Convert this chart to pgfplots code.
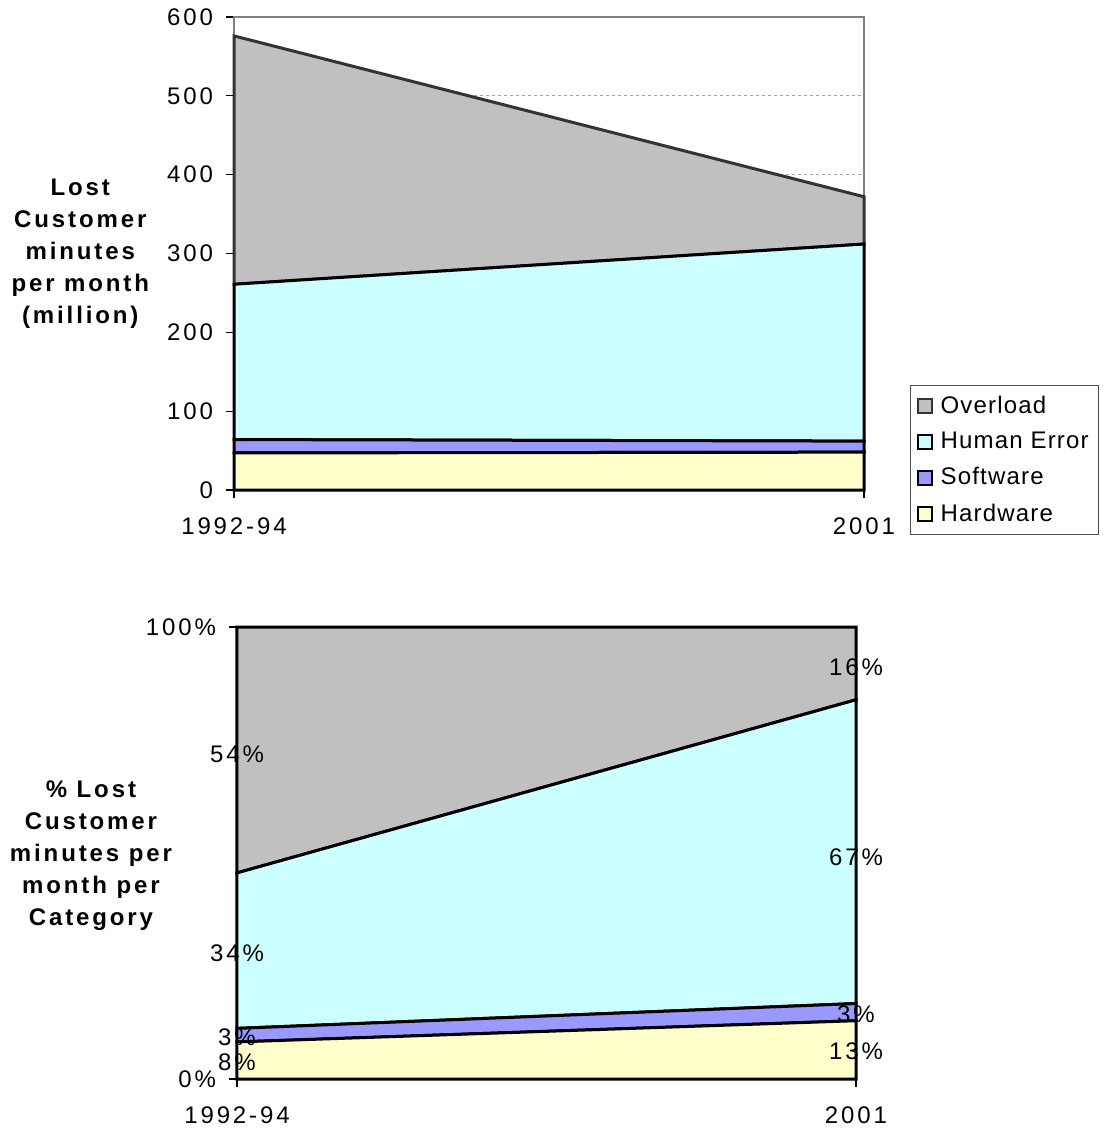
\documentclass[border=0pt]{standalone}
\usepackage{fontspec}
\setmainfont{Liberation Sans}[LetterSpace=12]
\newfontfamily\lgfont{Liberation Sans}[LetterSpace=5]
\usepackage{pgfplots}
\usepackage{pgfplotstable}
\pgfplotsset{compat=1.18}
\definecolor{ovc}{RGB}{192,192,192}
\definecolor{hec}{RGB}{204,255,255}
\definecolor{swc}{RGB}{153,153,255}
\definecolor{hwc}{RGB}{255,255,204}
\definecolor{ovline}{RGB}{51,51,51}
\definecolor{framec}{RGB}{128,128,128}

\pgfplotstableread{
x hw sw he ov
0 47 17 197 315
1 48 14 250 60
}\topdata
\pgfplotstableread{
x hw sw he ov
0 8.2 3.0 34.4 54.4
1 12.9 3.8 67.2 16.1
}\pctdata

\pgfplotsset{
  basestyle/.style={
    scale only axis,
    xmin=0, xmax=1,
    xtick={0,1}, xticklabels={1992-94,2001},
    tick pos=left,
    tick align=outside,
    major tick length=4pt,
    tick style={black, line width=0.6pt},
    axis line style={framec, line width=1pt},
    ticklabel style={font=\fontsize{12}{14}\selectfont},
    xticklabel style={yshift=-6.5pt},
    yticklabel style={xshift=-3pt},
    /pgf/number format/assume math mode=true,
    stack plots=y,
    clip=false,
  }
}

\begin{document}
\begin{tikzpicture}
\useasboundingbox (0pt,0pt) rectangle (552pt,-564.5pt);
\begin{axis}[basestyle, at={(117pt,-245pt)}, anchor=south west,
  width=315pt, height=236.5pt,
  ymin=0, ymax=600, ytick={0,100,...,600},
  ymajorgrids, major grid style={gray!70, line width=0.6pt, dash pattern=on 1.5pt off 1.5pt},
  ylabel={Lost\\Customer\\minutes\\per month\\(million)},
  ylabel style={at={(axis description cs:-0.244,0.5)}, rotate=-90, anchor=center, align=center, font=\bfseries\fontsize{12}{16}\selectfont},
  reverse legend,
  legend style={at={(1.073,-0.095)}, anchor=south west, draw=black!70, line width=0.6pt,
    font=\lgfont\fontsize{12}{14}\selectfont, row sep=4pt, inner sep=3pt, column sep=2pt},
  legend cell align=left,
  legend image code/.code={\draw[#1, line width=1pt] (0pt,-3.5pt) rectangle (7pt,3.5pt);},
]
\addplot[fill=hwc, draw=black, line width=1.5pt] table[x=x, y=hw] {\topdata} \closedcycle;
\addplot[fill=swc, draw=black, line width=1.5pt] table[x=x, y=sw] {\topdata} \closedcycle;
\addplot[fill=hec, draw=black, line width=1.5pt] table[x=x, y=he] {\topdata} \closedcycle;
\addplot[fill=ovc, draw=ovline, line width=1.5pt] table[x=x, y=ov] {\topdata} \closedcycle;
\legend{Hardware,Software,Human Error,Overload}
\end{axis}

\begin{axis}[basestyle, at={(118.5pt,-539.5pt)}, anchor=south west,
  width=309.5pt, height=226pt,
  ymin=0, ymax=100, ytick={0,100}, yticklabels={0\%,100\%},
  ylabel={\%\ Lost\\Customer\\minutes per\\month per\\Category},
  ylabel style={at={(axis description cs:-0.236,0.493)}, rotate=-90, anchor=center, align=center, font=\bfseries\fontsize{12}{16}\selectfont},
]
\addplot[fill=hwc, draw=black, line width=1.5pt] table[x=x, y=hw] {\pctdata} \closedcycle;
\addplot[fill=swc, draw=black, line width=1.5pt] table[x=x, y=sw] {\pctdata} \closedcycle;
\addplot[fill=hec, draw=black, line width=1.5pt] table[x=x, y=he] {\pctdata} \closedcycle;
\addplot[fill=ovc, draw=black, line width=1.5pt] table[x=x, y=ov] {\pctdata} \closedcycle;
\end{axis}

\begin{axis}[at={(118.5pt,-539.5pt)}, anchor=south west, scale only axis,
  width=309.5pt, height=226pt, hide axis, clip=false,
  xmin=0, xmax=1, ymin=0, ymax=100]
\addplot[draw=none, mark=none, nodes near coords, point meta=explicit symbolic,
  nodes near coords align=center,
  nodes near coords style={font=\fontsize{12}{14}\selectfont, inner sep=0pt, anchor=center}]
  coordinates {(0,71.9)[54\%] (0,27.9)[34\%] (0,9.3)[3\%] (0,3.8)[8\%]
               (1,91.2)[16\%] (1,49.1)[67\%] (1,14.4)[3\%] (1,6.2)[13\%]};
\end{axis}
\end{tikzpicture}
\end{document}
